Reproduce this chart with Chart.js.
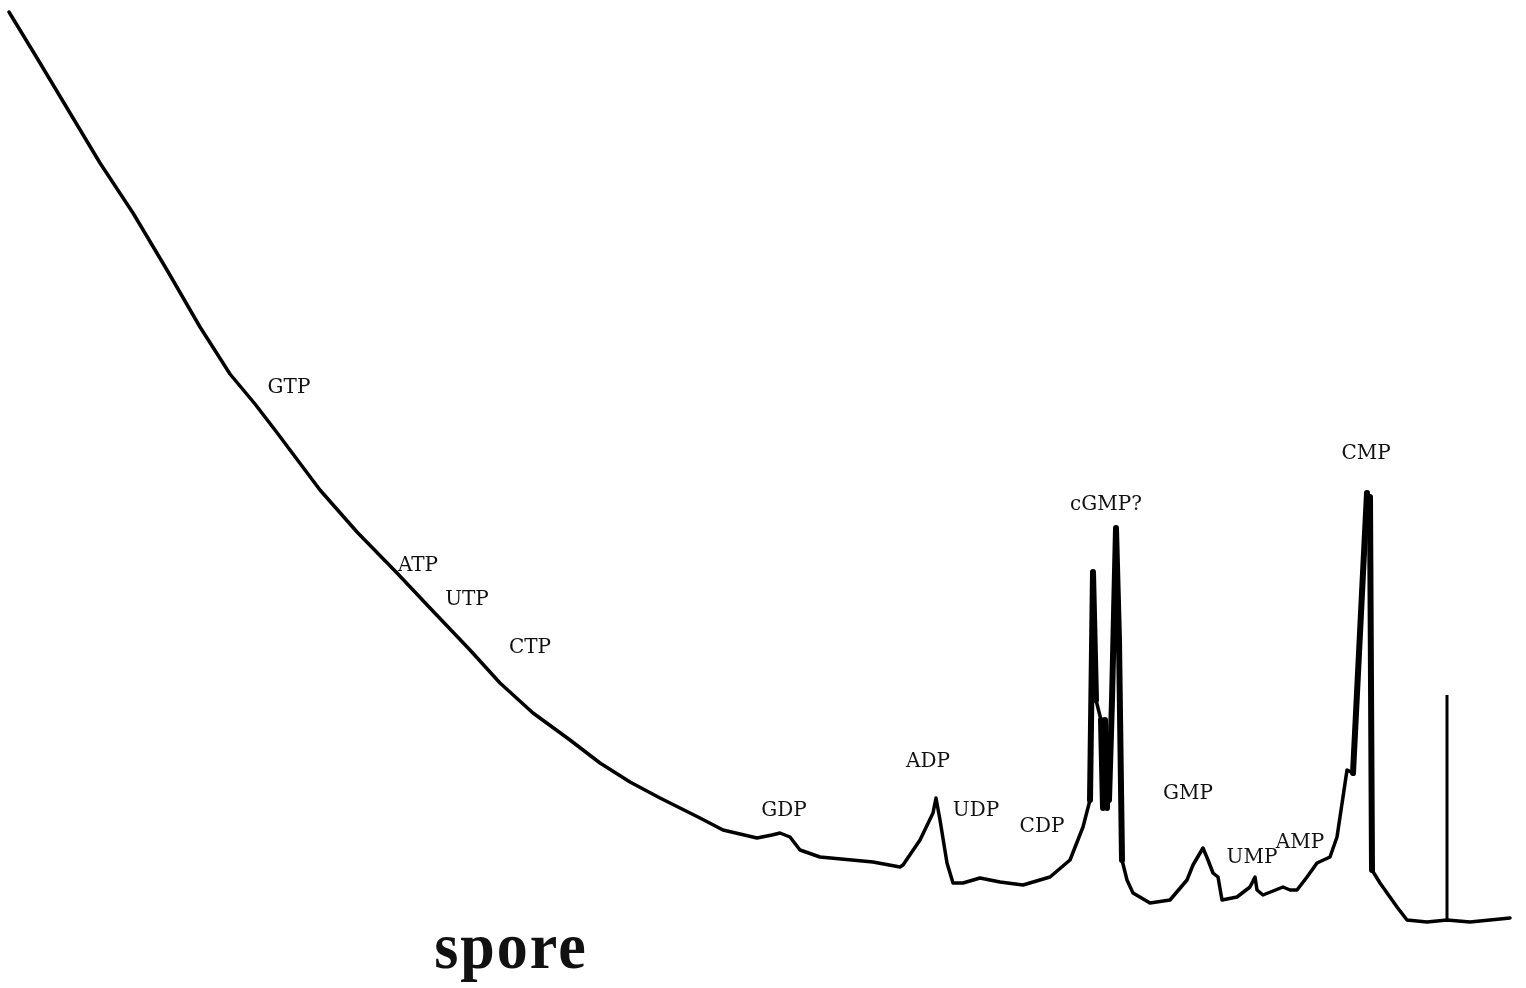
<!DOCTYPE html>
<html>
<head>
<meta charset="utf-8">
<script src="https://cdn.jsdelivr.net/npm/chart.js@4"></script>
<style>
  html, body { margin: 0; padding: 0; background: #fff; }
  #wrap { width: 1526px; height: 988px; }
</style>
</head>
<body>
<div id="wrap"><canvas id="trace"></canvas></div>
<script>
// elution time (arbitrary units) and detector signal
const elutionTime = [
  9, 37, 70, 100, 133, 167, 200, 230, 255, 275, 290, 320, 357, 397, 430, 470, 500, 533, 570, 600, 630, 660, 700, 723, 757,
  772, 780, 790, 800, 820, 873, 900, 903, 920, 933, 936, 940, 947, 953, 963, 980, 1000, 1023, 1050, 1070, 1083,
  1090, 1093, 1096, 1101, 1103, 1105, 1107, 1109, 1112, 1116, 1119, 1122, 1127, 1133, 1150, 1170, 1187, 1193, 1203, 1208,
  1213, 1218, 1222, 1237, 1250, 1255, 1257, 1263, 1283, 1290, 1297, 1307, 1317, 1330, 1337, 1343, 1347, 1353,
  1367, 1370, 1372, 1380, 1397, 1407, 1427, 1447, 1470, 1510
];
const signal = [
  976, 930, 875, 825, 775, 718, 661, 614, 584, 558, 538, 498, 456, 415, 380, 338, 305, 275, 248, 225, 206, 190, 170, 158, 150,
  153, 155, 151, 138, 131, 126, 121, 123, 148, 175, 190, 168, 125, 105, 105, 110, 106, 103, 111, 128, 161,
  188, 416, 288, 268, 180, 268, 180, 188, 288, 460, 348, 128, 108, 95, 85, 88, 108, 123, 140, 128,
  115, 111, 88, 91, 101, 111, 98, 93, 101, 98, 98, 111, 125, 131, 151, 191, 218, 215,
  495, 491, 118, 105, 81, 68, 66, 68, 66, 70
];
// marker pen stroke near the end of the run
const markerTime = [1447, 1447];
const markerSignal = [68, 293];

// peak labels
const peakNames = ['GTP', 'ATP', 'UTP', 'CTP', 'GDP', 'ADP', 'UDP', 'CDP', 'cGMP?', 'GMP', 'UMP', 'AMP', 'CMP'];
const peakTime = [289, 418, 467, 530, 784, 928, 976, 1042, 1106, 1188, 1252, 1300, 1366];
const peakSignal = [600, 422, 388, 340, 177, 226, 177, 161, 483, 194, 130, 145, 534];

const sampleName = 'spore';
const sampleTime = 511;
const sampleSignal = 20;

const labelPlugin = {
  id: 'labels',
  afterDatasetsDraw(chart) {
    const c = chart.ctx;
    const xs = chart.scales.x, ys = chart.scales.y;
    c.save();
    c.fillStyle = '#111';
    c.textAlign = 'center';
    c.textBaseline = 'middle';
    c.font = '20px "DejaVu Serif", serif';
    peakNames.forEach((n, i) => {
      c.fillText(n, xs.getPixelForValue(peakTime[i]), ys.getPixelForValue(peakSignal[i]));
    });
    // big sample name, slightly tall and spaced like the original
    c.textBaseline = 'alphabetic';
    c.translate(xs.getPixelForValue(sampleTime), ys.getPixelForValue(sampleSignal));
    c.scale(1, 1.06);
    c.font = 'bold 62px "Liberation Serif", serif';
    c.letterSpacing = '2px';
    c.fillText(sampleName, 0, 0);
    c.restore();
  }
};

// steep pen strokes came out heavier on the recorder
const steep = ctx => {
  const dx = Math.abs(ctx.p1.x - ctx.p0.x), dy = Math.abs(ctx.p1.y - ctx.p0.y);
  return dy > 8 * dx ? 6 : 3.5;
};

new Chart(document.getElementById('trace'), {
  type: 'line',
  data: {
    datasets: [
      {
        data: elutionTime.map((t, i) => ({ x: t, y: signal[i] })),
        borderColor: '#000',
        borderWidth: 3.5,
        pointRadius: 0,
        tension: 0,
        borderJoinStyle: 'round',
        borderCapStyle: 'round',
        segment: { borderWidth: steep }
      },
      {
        data: markerTime.map((t, i) => ({ x: t, y: markerSignal[i] })),
        borderColor: '#000',
        borderWidth: 3,
        pointRadius: 0
      }
    ]
  },
  options: {
    responsive: true,
    maintainAspectRatio: false,
    animation: false,
    layout: { padding: 0 },
    scales: {
      x: { type: 'linear', min: 0, max: 1526, display: false },
      y: { type: 'linear', min: 0, max: 988, display: false }
    },
    plugins: {
      legend: { display: false },
      tooltip: { enabled: false }
    }
  },
  plugins: [labelPlugin]
});
</script>
</body>
</html>
